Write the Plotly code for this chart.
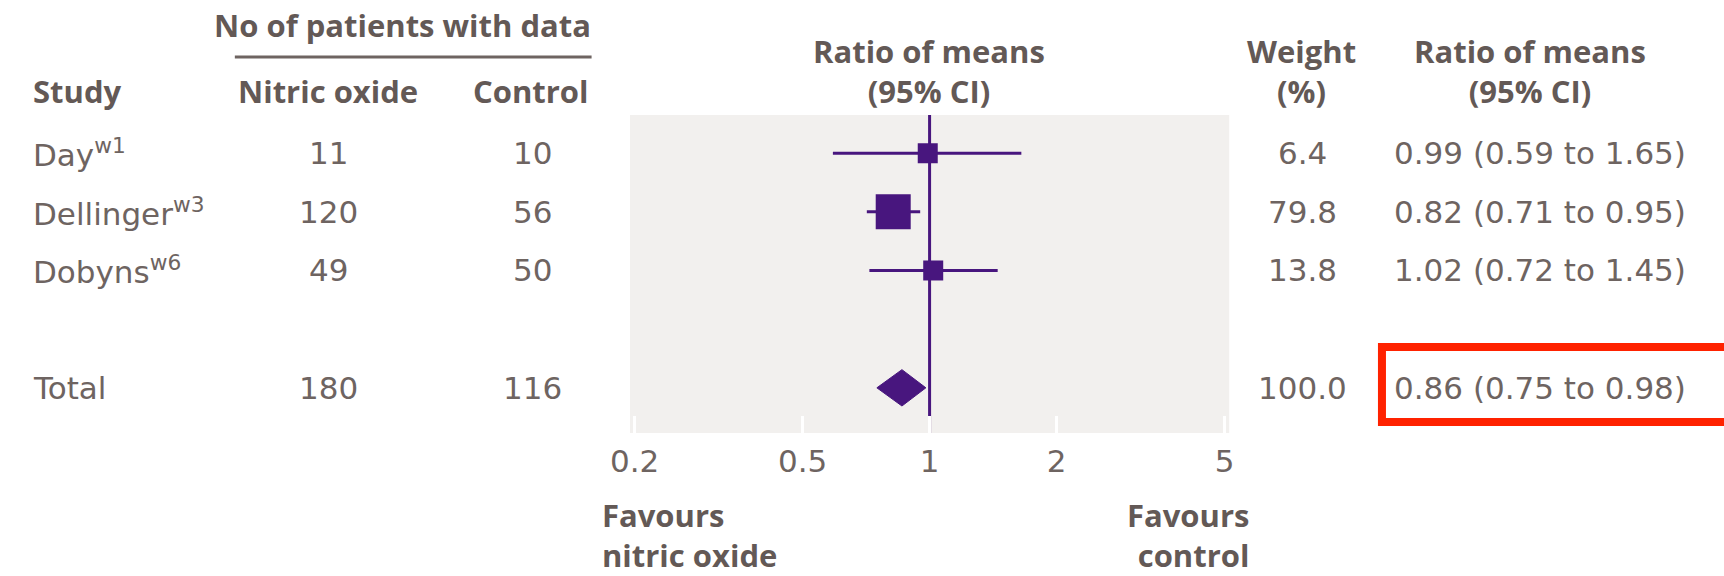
import math
import plotly.graph_objects as go

# ---- data -------------------------------------------------------------
studies = ["Day<sup>w1</sup>", "Dellinger<sup>w3</sup>", "Dobyns<sup>w6</sup>", "Total"]
row_pos = [0, 1, 2, 4]
n_nitric = [11, 120, 49, 180]
n_control = [10, 56, 50, 116]
weights = [6.4, 79.8, 13.8, 100.0]
ratio = [0.99, 0.82, 1.02, 0.86]
ci_low = [0.59, 0.71, 0.72, 0.75]
ci_high = [1.65, 0.95, 1.45, 0.98]
tick_vals = [0.2, 0.5, 1, 2, 5]
tick_text = ["0.2", "0.5", "1", "2", "5"]
null_value = 1

# ---- styling ----------------------------------------------------------
W, H = 1724, 576
PURPLE = "#48167e"
TEXT = "#6e6461"
TEXT_BOLD = "#635956"
PANEL = "#f2f0ee"
FONT = "DejaVu Sans"
FONT_BOLD = "Open Sans"
FS = 31
FS_BOLD = 31
box_px = [20, 35, 20]          # square sizes for individual studies
diamond_half = 0.31            # half height of pooled diamond (row units)
y_range = [4.77, -0.65]
x_range = [math.log10(0.195), math.log10(5.13)]


def px(x):
    return x / W


def py(y):
    return 1 - y / H


fig = go.Figure()

# line of no effect
fig.add_trace(go.Scatter(
    x=[null_value, null_value], y=y_range, mode="lines",
    line=dict(color=PURPLE, width=3), hoverinfo="skip", showlegend=False))

# confidence intervals and study squares
n_studies = len(studies) - 1
for i in range(n_studies):
    fig.add_trace(go.Scatter(
        x=[ci_low[i], ci_high[i]], y=[row_pos[i], row_pos[i]], mode="lines",
        line=dict(color=PURPLE, width=3), hoverinfo="skip", showlegend=False))
fig.add_trace(go.Scatter(
    x=ratio[:n_studies], y=row_pos[:n_studies], mode="markers",
    marker=dict(symbol="square", size=box_px, color=PURPLE, opacity=1,
                line=dict(width=0)),
    showlegend=False))

# pooled estimate diamond
t = n_studies
r = row_pos[t]
fig.add_trace(go.Scatter(
    x=[ci_low[t], ratio[t], ci_high[t], ratio[t], ci_low[t]],
    y=[r, r - diamond_half, r, r + diamond_half, r],
    mode="lines", fill="toself", fillcolor=PURPLE,
    line=dict(color=PURPLE, width=1), showlegend=False))

annotations = []


def add_text(x, y, text, anchor="center", yref="y", bold=False, align=None):
    font = (dict(family=FONT_BOLD, size=FS_BOLD, color=TEXT_BOLD, weight="bold")
            if bold else dict(family=FONT, size=FS, color=TEXT))
    annotations.append(dict(
        x=px(x), xref="paper", y=y, yref=yref, text=text,
        xanchor=anchor, yanchor="middle", showarrow=False, align=align or anchor,
        borderpad=0, font=font))


# table rows
for i, name in enumerate(studies):
    y = row_pos[i]
    add_text(12, y, name, anchor="left")
    add_text(313, y, str(n_nitric[i]))
    add_text(520, y, str(n_control[i]))
    add_text(1301, y, f"{weights[i]:.1f}")
    add_text(1393, y, f"{ratio[i]:.2f} ({ci_low[i]:.2f} to {ci_high[i]:.2f})", anchor="left")

# column headings
add_text(388, py(25), "No of patients with data", yref="paper", bold=True)
add_text(12, py(91), "Study", anchor="left", yref="paper", bold=True)
add_text(313, py(91), "Nitric oxide", yref="paper", bold=True)
add_text(519, py(91), "Control", yref="paper", bold=True)
add_text(922, py(71), "Ratio of means<br>(95% CI)", yref="paper", bold=True)
add_text(1300, py(71), "Weight<br>(%)", yref="paper", bold=True)
add_text(1532, py(71), "Ratio of means<br>(95% CI)", yref="paper", bold=True)

# direction labels
add_text(590, py(535), "Favours<br>nitric oxide", anchor="left", yref="paper", bold=True)
add_text(1248, py(535), "Favours<br>control", anchor="right", yref="paper", bold=True)

shapes = [
    # rule under the patient-count heading
    dict(type="line", xref="paper", yref="paper", x0=px(218), x1=px(580),
         y0=py(57), y1=py(57), line=dict(color=TEXT, width=3)),
    # highlight around pooled result
    dict(type="rect", xref="paper", yref="paper", x0=px(1382), x1=px(1760),
         y0=py(347), y1=py(422), line=dict(color="#ff2200", width=8)),
]

fig.update_layout(
    width=W, height=H,
    margin=dict(l=0, r=0, t=0, b=0),
    paper_bgcolor="white", plot_bgcolor=PANEL,
    annotations=annotations, shapes=shapes,
    xaxis=dict(
        type="log", range=x_range, domain=[px(619), px(1227)],
        tickvals=tick_vals, ticktext=tick_text,
        ticks="inside", ticklen=17, tickwidth=2.5, tickcolor="white",
        showgrid=False, zeroline=False, showline=False,
        ticklabelstandoff=7,
        tickfont=dict(family=FONT, size=FS, color=TEXT)),
    yaxis=dict(
        range=y_range, domain=[py(433), py(115)],
        showticklabels=False, showgrid=False, zeroline=False, ticks=""),
)

fig.write_html("out.html", post_script="document.body.style.margin = '0';")
